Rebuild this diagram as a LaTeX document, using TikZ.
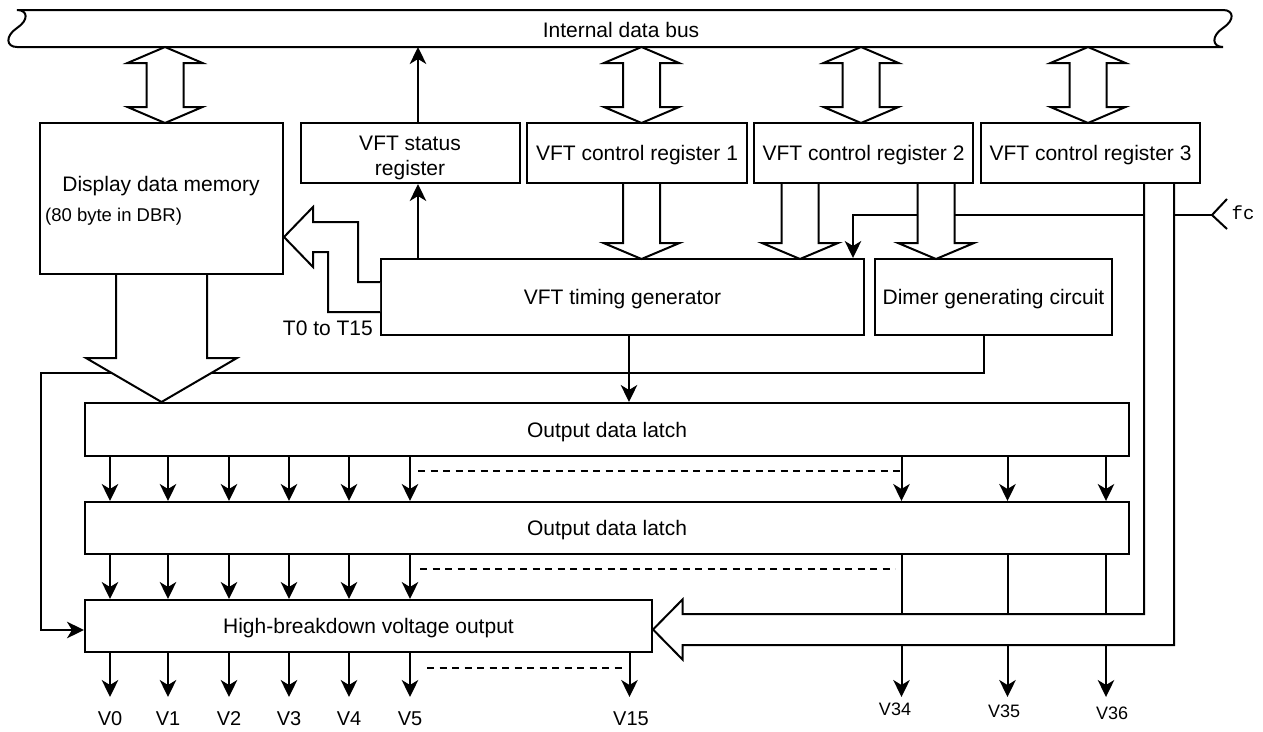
\documentclass[tikz,border=0pt]{standalone}
\usepackage{fontspec}
\setmainfont{Liberation Sans}
\newfontfamily\fcfont{Liberation Mono}
\usetikzlibrary{arrows.meta}
\newcommand{\dblarrow}[3]{\draw[fat] (#1,#2) -- (#1+37.5,#2+16) -- (#1+18.5,#2+16) -- (#1+18.5,#3-16) -- (#1+37.5,#3-16) -- (#1,#3) -- (#1-37.5,#3-16) -- (#1-18.5,#3-16) -- (#1-18.5,#2+16) -- (#1-37.5,#2+16) -- cycle;}
\newcommand{\fatdown}[3]{\draw[fat] (#1-18.5,#2) -- (#1-18.5,#3-16) -- (#1-38,#3-16) -- (#1,#3) -- (#1+38,#3-16) -- (#1+18.5,#3-16) -- (#1+18.5,#2);}
\begin{document}
\begin{tikzpicture}[x=1pt,y=-1pt,
  box/.style={draw, line width=2pt, inner sep=0pt, text height=15pt, text depth=0pt, font=\fontsize{21}{25}\selectfont},
  lbl/.style={inner sep=0pt, text height=15pt, text depth=0pt, font=\fontsize{21}{25}\selectfont},
  arr/.style={line width=2pt, -{Stealth[length=17pt,width=16.5pt,inset=5pt]}},
  ln/.style={line width=2pt},
  fat/.style={draw, line width=2pt, fill=white, line join=miter},
  dotline/.style={line width=2pt, dash pattern=on 7pt off 5.5pt}]
\useasboundingbox (0,0) rectangle (1263,731);
% internal data bus
\draw[ln, fill=white] (17,10) -- (1223,10) .. controls (1234,10) and (1235,20) .. (1223,28) .. controls (1211,36) and (1212,47) .. (1223,47) -- (17,47) .. controls (6,47) and (5,36) .. (17,28) .. controls (29,20) and (28,10) .. (17,10) -- cycle;
\node[lbl] (bus) at (621,30) {Internal data bus};
\coordinate (busb) at (0,47);
% boxes
\node[box, minimum width=243pt, minimum height=151pt] (ddm) at (161.5,198.5) {};
\node[lbl] (ddmt) at (161,183.5) {Display data memory};
\node[lbl, font=\fontsize{18.5}{22}\selectfont, text height=13pt, anchor=west] (ddms) at (45,214.5) {(80 byte in DBR)};
\node[box, minimum width=219pt, minimum height=60pt] (stat) at (410.5,153) {};
\node[lbl] (statt1) at (410,142.5) {VFT status};
\node[lbl] (statt2) at (410,167.5) {register};
\node[box, minimum width=220pt, minimum height=60pt] (cr1) at (637,153) {VFT control register 1};
\node[box, minimum width=219pt, minimum height=60pt] (cr2) at (863.5,153) {VFT control register 2};
\node[box, minimum width=219pt, minimum height=60pt] (cr3) at (1090.5,153) {VFT control register 3};
\node[box, minimum width=483pt, minimum height=76pt] (tim) at (622.5,297) {VFT timing generator};
\node[box, minimum width=237pt, minimum height=76pt] (dim) at (993.5,297) {Dimer generating circuit};
\node[box, minimum width=1044pt, minimum height=53pt] (lat1) at (607,429.5) {Output data latch};
\node[box, minimum width=1044pt, minimum height=52pt] (lat2) at (607,528) {Output data latch};
\node[box, minimum width=567pt, minimum height=52pt] (hbv) at (368.5,626) {High-breakdown voltage output};
% top double arrows
\dblarrow{165}{47}{123}
\dblarrow{641.5}{47}{123}
\dblarrow{861}{47}{123}
\dblarrow{1088}{47}{123}
% status register arrows
\coordinate (sx) at (418,0);
\draw[arr] (tim.north -| sx) -- (stat.south -| sx);
\draw[arr] (stat.north -| sx) -- (busb -| sx);
% fc line (under the fat arrows)
\coordinate (fcv) at (1212,215);
\coordinate (fx) at (853,0);
\draw[arr] (fcv) -| (tim.north -| fx);
\draw[ln] (fcv) ++(15,-16) -- (fcv) -- ++(15,14);
\node[inner sep=0pt, font=\fcfont\fontsize{19}{22}\selectfont] (fc) at (1243,213) {fc};
% dimer line (under DDM fat arrow)
\coordinate (dx) at (984,0);
\coordinate (lp) at (41,373);
\draw[arr] (dim.south -| dx) |- (lp) |- ([yshift=-4pt]hbv.west);
% timing to latch
\coordinate (tx) at (629,0);
\draw[arr] (tim.south -| tx) -- (lat1.north -| tx);
% fat arrows
\fatdown{641.5}{184}{259}
\fatdown{800}{184}{259}
\fatdown{936}{184}{259}
\draw[fat] (116,275) -- (116,358) -- (86,358) -- (161.5,402) -- (237,358) -- (207,358) -- (207,275);
\draw[fat] (380,282) -- (358,282) -- (358,222) -- (313,222) -- (313,207) -- (284,237) -- (313,267) -- (313,252) -- (328,252) -- (328,312) -- (380,312);
\node[lbl, anchor=east] (tlab) at (373,328) {T0 to T15};
\draw[fat] (1144,184) -- (1144,614) -- (682.5,614) -- (682.5,599.5) -- (653,629.5) -- (682.5,659.5) -- (682.5,645) -- (1174,645) -- (1174,184);
% latch arrows
\coordinate (ob) at (0,697);
\coordinate (bu) at (0,614);
\coordinate (bl) at (0,645);
\foreach \x in {110,168,229,289,349,410,901.5,1007.5,1106} {
  \coordinate (c) at (\x,0);
  \draw[arr] (lat1.south -| c) -- (lat2.north -| c);
}
\foreach \x in {110,168,229,289,349,410} {
  \coordinate (c) at (\x,0);
  \draw[arr] (lat2.south -| c) -- (hbv.north -| c);
}
\foreach \x in {901.5,1007.5,1106} {
  \coordinate (c) at (\x,0);
  \draw[ln] (lat2.south -| c) -- (bu -| c);
  \draw[arr] (bl -| c) -- (ob -| c);
}
\foreach \x in {110,168,229,289,349,410,629.5} {
  \coordinate (c) at (\x,0);
  \draw[arr] (hbv.south -| c) -- (ob -| c);
}
\draw[dotline] (418,471) -- (901,471);
\draw[dotline] (420,569) -- (895,569);
\draw[dotline] (427,668) -- (624,668);
% output labels
\foreach \x/\t in {110/V0,168/V1,229/V2,289/V3,349/V4,410/V5,631/V15} {
  \node[lbl, font=\fontsize{20}{24}\selectfont] at (\x,718) {\t};
}
\node[lbl, font=\fontsize{18}{22}\selectfont, text height=13pt] (v34) at (895,709) {V34};
\node[lbl, font=\fontsize{18}{22}\selectfont, text height=13pt] (v35) at (1004,711) {V35};
\node[lbl, font=\fontsize{18}{22}\selectfont, text height=13pt] (v36) at (1112,713) {V36};
\end{tikzpicture}
\end{document}
